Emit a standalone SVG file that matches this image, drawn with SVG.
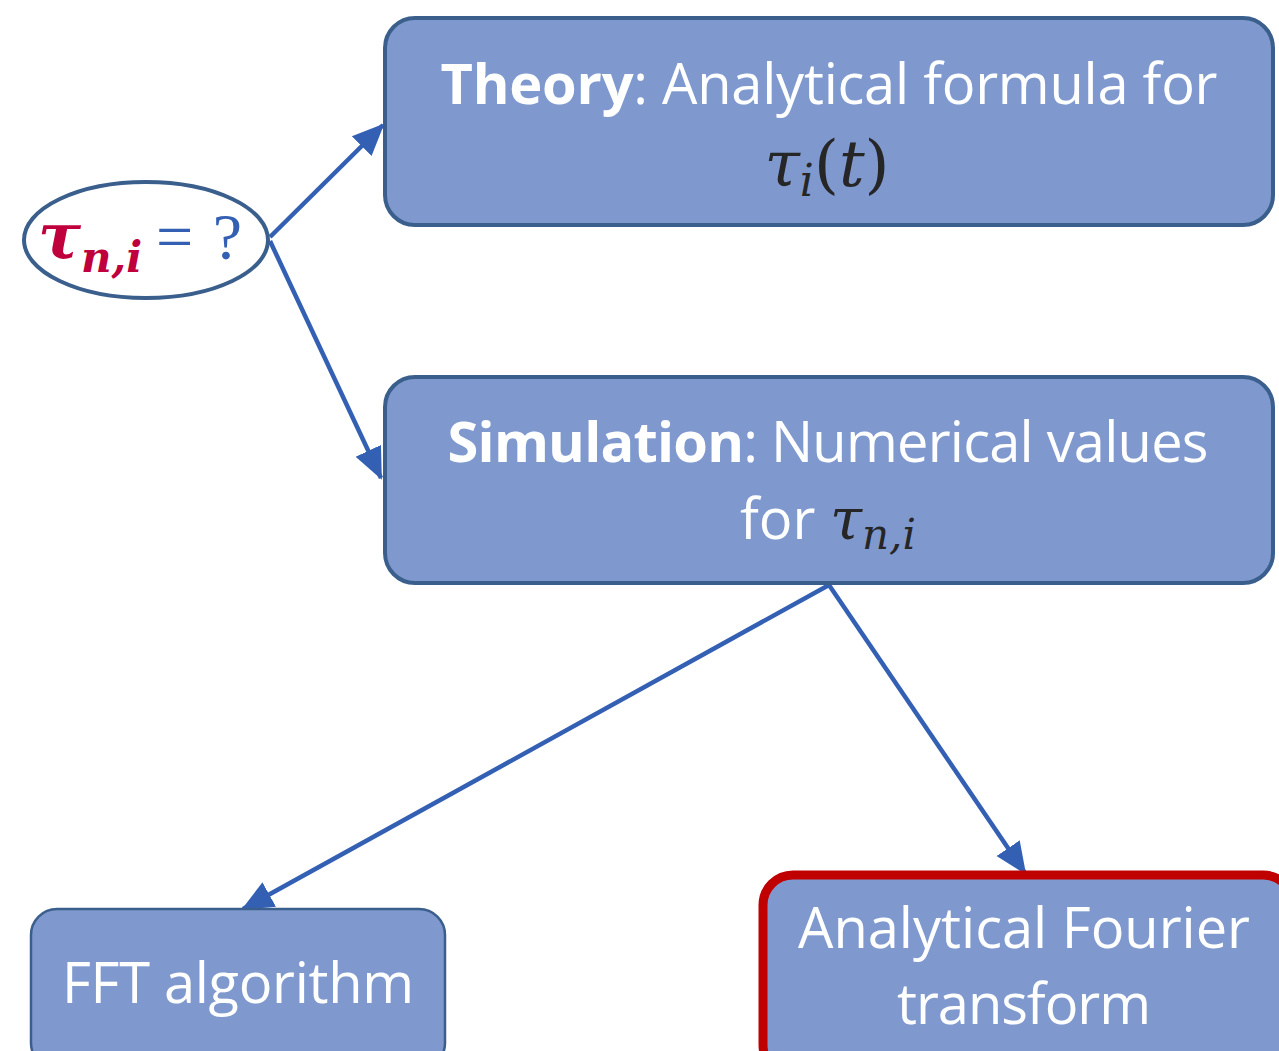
<svg xmlns="http://www.w3.org/2000/svg" width="1279" height="1051" viewBox="0 0 1279 1051">
<defs>
<style>
.box{fill:#7F99CF;stroke:#3B5F8C;stroke-width:4}
.lbl{font-family:"Open Sans","Noto Sans",sans-serif;fill:#ffffff;font-size:56px}
.math{font-family:"DejaVu Serif","Liberation Serif",serif;font-style:italic;fill:#262626}
.conn{stroke:#3460B4;stroke-width:4.5;fill:none}
</style>
<marker id="a2" viewBox="0 0 32 30" refX="30" refY="15" markerWidth="32" markerHeight="30" markerUnits="userSpaceOnUse" orient="auto">
<path d="M0,1 L32,15 L0,29 z" fill="#3460B4"/>
</marker>
</defs>
<rect width="1279" height="1051" fill="#ffffff"/>
<g id="connectors">
<line class="conn" x1="270" y1="237" x2="383" y2="125" marker-end="url(#a2)"/>
<line class="conn" x1="270" y1="241" x2="381" y2="478" marker-end="url(#a2)"/>
<line class="conn" x1="829" y1="585" x2="243" y2="909" marker-end="url(#a2)"/>
<line class="conn" x1="829" y1="585" x2="1025" y2="873" marker-end="url(#a2)"/>
</g>
<g id="node-tau">
<ellipse cx="146" cy="240" rx="122" ry="58" fill="#ffffff" stroke="#3B5F8C" stroke-width="4"/>
<text x="38" y="258" font-family="DejaVu Serif,serif" font-style="italic" font-weight="bold" font-size="64" fill="#C0003C">τ<tspan font-size="42" dy="14">n,i</tspan></text>
<text x="156" y="259" font-family="Liberation Serif,serif" font-size="66" fill="#3460B4" textLength="86">= ?</text>
</g>
<g id="node-theory">
<rect class="box" x="385" y="18" width="888" height="207" rx="30"/>
<text class="lbl" x="829" y="104" text-anchor="middle" textLength="777"><tspan font-weight="bold">Theory</tspan>: Analytical formula for</text>
<text class="math" x="827" y="186" text-anchor="middle" font-size="64">τ<tspan font-size="44" dy="10">i</tspan><tspan dy="-10" font-style="normal">(</tspan>t<tspan font-style="normal">)</tspan></text>
</g>
<g id="node-simulation">
<rect class="box" x="385" y="377" width="888" height="206" rx="30"/>
<text class="lbl" x="828" y="462" text-anchor="middle" textLength="761"><tspan font-weight="bold">Simulation</tspan>: Numerical values</text>
<text class="lbl" x="740" y="539">for <tspan class="math" font-size="58">τ</tspan><tspan class="math" font-size="42" dy="10">n,i</tspan></text>
</g>
<g id="node-fft">
<rect x="31" y="909" width="414" height="160" rx="26" fill="#7F99CF" stroke="#3B5F8C" stroke-width="2.5"/>
<text class="lbl" x="238" y="1003" text-anchor="middle" font-size="58" textLength="352">FFT algorithm</text>
</g>
<g id="node-fourier">
<rect x="763" y="875" width="530" height="200" rx="30" fill="#7F99CF" stroke="#C00000" stroke-width="9"/>
<text class="lbl" x="1024" y="948" text-anchor="middle" font-size="58" textLength="452">Analytical Fourier</text>
<text class="lbl" x="1024" y="1024" text-anchor="middle" font-size="58" textLength="254">transform</text>
</g>
</svg>
